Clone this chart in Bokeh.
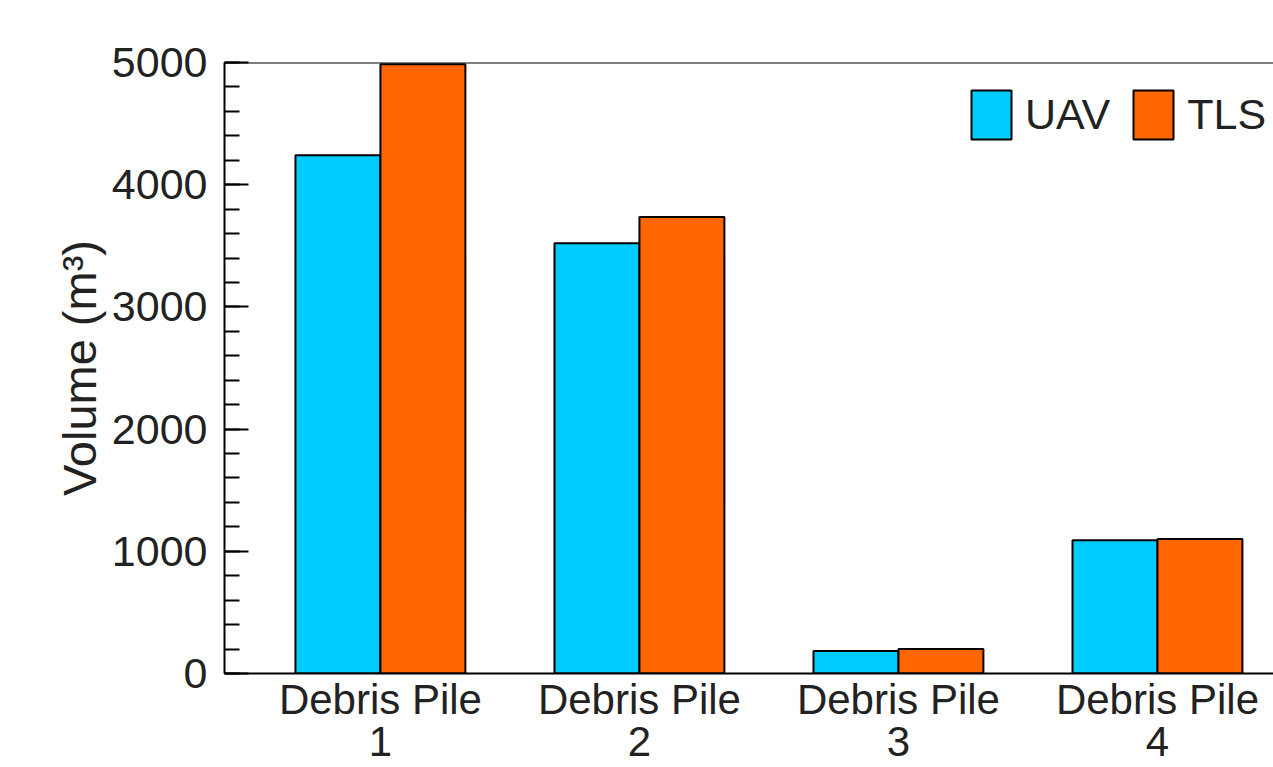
from bokeh.plotting import figure
from bokeh.models import (Range1d, FixedTicker, SingleIntervalTicker, Span,
                          Legend, LegendItem, ColumnDataSource)
from bokeh.transform import dodge
from bokeh.embed import file_html
from bokeh.resources import INLINE

# ---- data ----
piles = ["Debris Pile\n1", "Debris Pile\n2", "Debris Pile\n3", "Debris Pile\n4"]
uav = [4240, 3520, 185, 1090]
tls = [4985, 3735, 200, 1100]
series = ["UAV", "TLS"]
colors = ["#00CCFF", "#FF6600"]
y_label = "Volume (m³)"

FONT = "Liberation Sans"
TXT = "#222222"
x = list(range(len(piles)))
src = ColumnDataSource(dict(x=x, UAV=uav, TLS=tls))

p = figure(width=1273, height=767,
           x_range=Range1d(-0.602, 3.448), y_range=Range1d(0, 5000),
           output_backend="svg", toolbar_location=None,
           min_border_left=224, min_border_right=0,
           min_border_top=62, min_border_bottom=10)
p.background_fill_color = "white"
p.border_fill_color = "white"
p.outline_line_color = None
p.grid.visible = False

bw = 0.328
renderers = []
for i, (s, c) in enumerate(zip(series, colors)):
    off = (i - 0.5) * bw
    r = p.vbar(x=dodge("x", off), top=s, width=bw, source=src,
               fill_color=c, line_color="black", line_width=2)
    renderers.append(r)

# top frame line
p.add_layout(Span(location=5000, dimension="width", line_color="black", line_width=2))

# x axis
xa = p.xaxis[0]
xa.ticker = FixedTicker(ticks=x)
xa.major_label_overrides = {i: n for i, n in zip(x, piles)}
xa.major_tick_in = 0
xa.major_tick_out = 0
xa.minor_tick_in = 0
xa.minor_tick_out = 0
xa.axis_line_width = 2
xa.axis_line_color = "black"
xa.major_label_standoff = 2
xa.major_label_text_font = FONT
xa.major_label_text_font_size = "42px"
xa.major_label_text_line_height = 0.9
xa.major_label_text_color = TXT

# y axis
ya = p.yaxis[0]
ya.ticker = SingleIntervalTicker(interval=1000, num_minor_ticks=5)
ya.major_tick_in = 24
ya.major_tick_out = 0
ya.minor_tick_in = 15
ya.minor_tick_out = 0
ya.major_tick_line_width = 2
ya.minor_tick_line_width = 2
ya.axis_line_width = 2
ya.axis_line_color = "black"
ya.major_label_standoff = 17
ya.major_label_text_font = FONT
ya.major_label_text_font_size = "43px"
ya.major_label_text_color = TXT
ya.axis_label = y_label
ya.axis_label_text_font = FONT
ya.axis_label_text_font_size = "47px"
ya.axis_label_text_font_style = "normal"
ya.axis_label_text_color = TXT
ya.axis_label_standoff = 3

legend = Legend(items=[LegendItem(label=s, renderers=[r]) for s, r in zip(series, renderers)],
                location=(742, 528), orientation="horizontal",
                padding=0, margin=0, border_line_color=None, background_fill_alpha=0,
                glyph_width=50, glyph_height=61, label_height=61,
                label_standoff=9, spacing=18,
                label_text_font=FONT, label_text_font_size="43px",
                label_text_color=TXT)
p.add_layout(legend)

open("out.html", "w").write(file_html(p, INLINE))
